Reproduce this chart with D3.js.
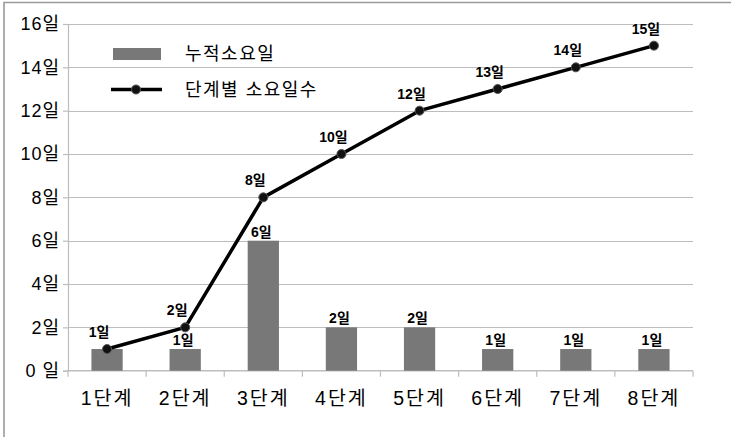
<!DOCTYPE html>
<html>
<head>
<meta charset="utf-8">
<script src="https://cdn.jsdelivr.net/npm/d3@7"></script>
<style>
  html, body { margin: 0; padding: 0; background: #fff; }
  svg { display: block; }
  text { font-family: "Liberation Sans", "Noto Sans CJK KR", sans-serif; fill: #000; }
</style>
</head>
<body>
<svg id="chart" width="731" height="437"></svg>
<script>
// Stages and durations
const stages = ["1단계", "2단계", "3단계", "4단계", "5단계", "6단계", "7단계", "8단계"];
const stageDays = [1, 1, 6, 2, 2, 1, 1, 1];          // bars: 누적소요일
const cumulativeDays = [1, 2, 8, 10, 12, 13, 14, 15]; // line: 단계별 소요일수
const yTicks = [0, 2, 4, 6, 8, 10, 12, 14, 16];
const seriesNames = ["누적소요일", "단계별 소요일수"];

const svg = d3.select("#chart");
const W = 731, H = 437;
const plot = { left: 68, right: 693, top: 24, bottom: 370.7 };

const x = d3.scaleBand()
  .domain(stages)
  .range([plot.left, plot.right])
  .paddingInner(0.6)
  .paddingOuter(0.3);

const y = d3.scaleLinear()
  .domain([0, 16])
  .range([plot.bottom, plot.top]);

const dayLabel = v => v === 0 ? "0 일" : v + "일";

// outer frame (top and left edges)
svg.append("path")
  .attr("d", `M4,${H} L4,2.5 L${W},2.5`)
  .attr("fill", "none")
  .attr("stroke", "#9a9a9a")
  .attr("stroke-width", 1.6);

// horizontal gridlines
svg.append("g")
  .selectAll("line")
  .data(yTicks.filter(t => t > 0))
  .join("line")
  .attr("x1", plot.left)
  .attr("x2", plot.right)
  .attr("y1", d => Math.round(y(d)) + 0.5)
  .attr("y2", d => Math.round(y(d)) + 0.5)
  .attr("stroke", "#bdbdbd")
  .attr("stroke-width", 1.2);

// y axis
const yAxis = svg.append("g")
  .attr("transform", `translate(${plot.left},0)`)
  .call(d3.axisLeft(y).tickValues(yTicks).tickSize(5).tickPadding(3).tickFormat(dayLabel));
yAxis.select(".domain").attr("stroke", "#bdbdbd").attr("stroke-width", 1.2);
yAxis.selectAll(".tick line").attr("stroke", "#bdbdbd").attr("stroke-width", 1.2);
yAxis.selectAll(".tick text")
  .attr("font-size", 18)
  .attr("letter-spacing", 1)
  .attr("font-family", "\"Liberation Sans\", \"Noto Sans CJK KR\", sans-serif")
  .attr("fill", "#000");

// x axis with ticks on category boundaries
const xAxisG = svg.append("g")
  .attr("transform", `translate(0,${plot.bottom})`);
xAxisG.append("line")
  .attr("x1", plot.left).attr("x2", plot.right)
  .attr("stroke", "#bdbdbd").attr("stroke-width", 1.5);
const step = x.step();
xAxisG.selectAll("line.tk")
  .data(d3.range(stages.length + 1))
  .join("line")
  .attr("class", "tk")
  .attr("x1", i => plot.left + i * step)
  .attr("x2", i => plot.left + i * step)
  .attr("y1", 0).attr("y2", 6)
  .attr("stroke", "#bdbdbd").attr("stroke-width", 1.2);
xAxisG.selectAll("text")
  .data(stages)
  .join("text")
  .attr("x", d => x(d) + x.bandwidth() / 2)
  .attr("y", 34)
  .attr("text-anchor", "middle")
  .attr("font-size", 19.5)
  .attr("letter-spacing", 2)
  .text(d => d);

// bars
svg.append("g")
  .selectAll("rect")
  .data(stages)
  .join("rect")
  .attr("x", d => x(d))
  .attr("width", x.bandwidth())
  .attr("y", (d, i) => y(stageDays[i]))
  .attr("height", (d, i) => plot.bottom - y(stageDays[i]))
  .attr("fill", "#787878");

// bar value labels (a stage whose bar top meets the line point shares one label)
svg.append("g")
  .selectAll("text")
  .data(stages.filter((d, i) => stageDays[i] !== cumulativeDays[i]))
  .join("text")
  .attr("x", d => x(d) + x.bandwidth() / 2 - 2)
  .attr("y", d => y(stageDays[stages.indexOf(d)]) - 4)
  .attr("text-anchor", "middle")
  .attr("font-size", 14)
  .attr("font-weight", "bold")
  .text(d => stageDays[stages.indexOf(d)] + "일");

// line
const cx = d => x(d) + x.bandwidth() / 2;
const line = d3.line()
  .x(d => cx(d))
  .y((d, i) => y(cumulativeDays[i]));
svg.append("path")
  .datum(stages)
  .attr("d", line)
  .attr("fill", "none")
  .attr("stroke", "#000")
  .attr("stroke-width", 3.5)
  .attr("stroke-linejoin", "round");

// markers
svg.append("g")
  .selectAll("circle")
  .data(stages)
  .join("circle")
  .attr("cx", d => cx(d))
  .attr("cy", (d, i) => y(cumulativeDays[i]))
  .attr("r", 4.5)
  .attr("fill", "#111")
  .attr("stroke", "#555")
  .attr("stroke-width", 1);

// line value labels
svg.append("g")
  .selectAll("text")
  .data(stages)
  .join("text")
  .attr("x", d => cx(d) - 8)
  .attr("y", (d, i) => y(cumulativeDays[i]) - 12)
  .attr("text-anchor", "middle")
  .attr("font-size", 14)
  .attr("font-weight", "bold")
  .text((d, i) => cumulativeDays[i] + "일");

// legend
const legend = svg.append("g");
legend.append("rect")
  .attr("x", 113).attr("y", 48)
  .attr("width", 48).attr("height", 12)
  .attr("fill", "#787878");
legend.append("text")
  .attr("x", 185).attr("y", 60)
  .attr("font-size", 18)
  .attr("letter-spacing", 1.5)
  .text(seriesNames[0]);
legend.append("line")
  .attr("x1", 111).attr("x2", 162)
  .attr("y1", 89.5).attr("y2", 89.5)
  .attr("stroke", "#000").attr("stroke-width", 3.5);
legend.append("circle")
  .attr("cx", 136).attr("cy", 89.5).attr("r", 4.5)
  .attr("fill", "#111").attr("stroke", "#555").attr("stroke-width", 1);
legend.append("text")
  .attr("x", 185).attr("y", 96)
  .attr("font-size", 18)
  .attr("letter-spacing", 1.5)
  .text(seriesNames[1]);
</script>
</body>
</html>
